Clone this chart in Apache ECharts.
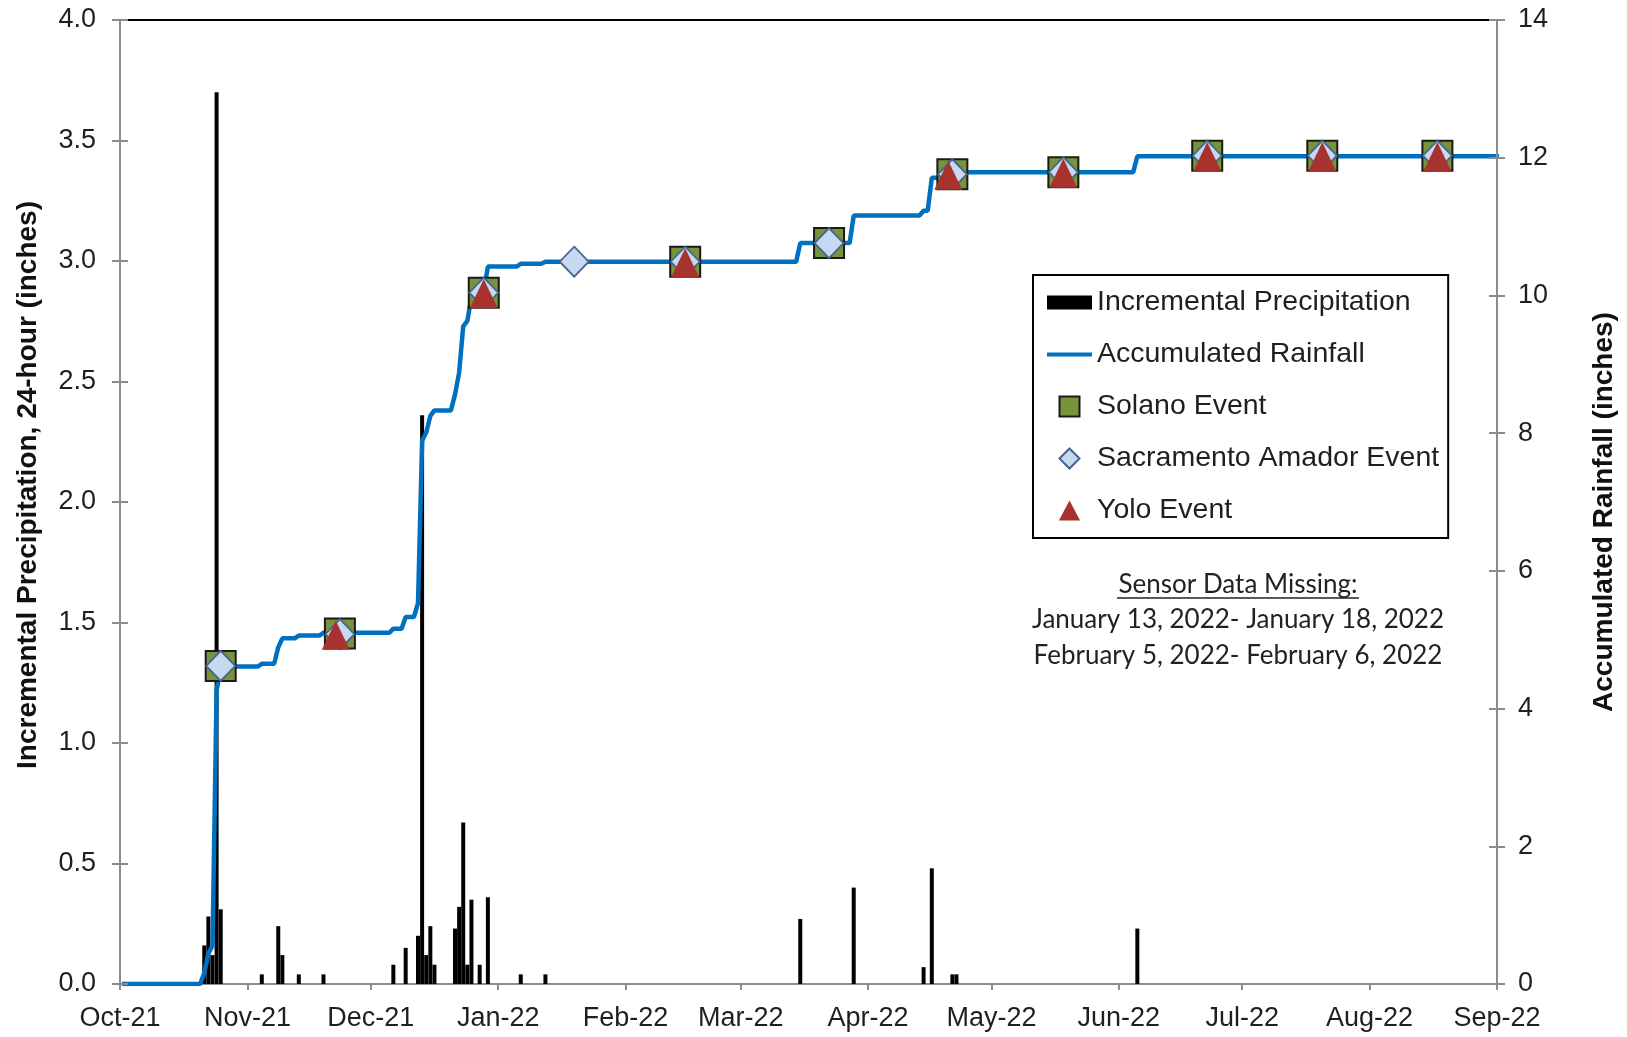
<!DOCTYPE html>
<html>
<head>
<meta charset="utf-8">
<script src="https://cdn.jsdelivr.net/npm/echarts@6/dist/echarts.min.js"></script>
<style>
html,body{margin:0;padding:0;background:#fff;}
#chart{width:1627px;height:1037px;}
</style>
</head>
<body>
<div id="chart"></div>
<script>
// ---------- DATA ----------
const startDate = '2021-10-01';
const monthStarts = ['2021-10-01','2021-11-01','2021-12-01','2022-01-01','2022-02-01','2022-03-01','2022-04-01','2022-05-01','2022-06-01','2022-07-01','2022-08-01','2022-09-01'];
const tickLabels = ['Oct-21','Nov-21','Dec-21','Jan-22','Feb-22','Mar-22','Apr-22','May-22','Jun-22','Jul-22','Aug-22','Sep-22'];

// Incremental precipitation, 24-hour (inches)
const precipitation = [
  ['2021-10-21',0.16],['2021-10-22',0.28],['2021-10-23',0.12],['2021-10-24',3.70],['2021-10-25',0.31],
  ['2021-11-04',0.04],['2021-11-08',0.24],['2021-11-09',0.12],['2021-11-13',0.04],['2021-11-19',0.04],
  ['2021-12-06',0.08],['2021-12-09',0.15],['2021-12-12',0.20],['2021-12-13',2.36],['2021-12-14',0.12],
  ['2021-12-15',0.24],['2021-12-16',0.08],['2021-12-21',0.23],['2021-12-22',0.32],['2021-12-23',0.67],
  ['2021-12-24',0.08],['2021-12-25',0.35],['2021-12-27',0.08],['2021-12-29',0.36],
  ['2022-01-06',0.04],['2022-01-12',0.04],
  ['2022-03-15',0.27],['2022-03-28',0.40],['2022-04-14',0.07],['2022-04-16',0.48],
  ['2022-04-21',0.04],['2022-04-22',0.04],['2022-06-05',0.23]
];

// Accumulated rainfall (inches)
const accumulated = [
  ['2021-10-01',0],['2021-10-20',0],['2021-10-21',0.16],['2021-10-22',0.44],['2021-10-23',0.56],
  ['2021-10-24',4.26],['2021-10-25',4.61],['2021-11-03',4.61],['2021-11-04',4.65],['2021-11-07',4.65],
  ['2021-11-08',4.89],['2021-11-09',5.02],['2021-11-12',5.02],['2021-11-13',5.06],['2021-11-18',5.06],
  ['2021-11-19',5.10],['2021-12-05',5.10],['2021-12-06',5.16],['2021-12-08',5.16],['2021-12-09',5.33],
  ['2021-12-11',5.33],['2021-12-12',5.53],['2021-12-13',7.89],['2021-12-14',8.01],['2021-12-15',8.25],
  ['2021-12-16',8.33],['2021-12-20',8.33],['2021-12-21',8.56],['2021-12-22',8.88],['2021-12-23',9.55],
  ['2021-12-24',9.63],['2021-12-25',9.98],['2021-12-26',9.98],['2021-12-27',10.06],['2021-12-28',10.06],
  ['2021-12-29',10.42],['2022-01-05',10.42],['2022-01-06',10.46],['2022-01-11',10.46],['2022-01-12',10.49],
  ['2022-03-14',10.49],['2022-03-15',10.76],['2022-03-27',10.76],['2022-03-28',11.16],['2022-04-13',11.16],
  ['2022-04-14',11.23],['2022-04-15',11.23],['2022-04-16',11.71],['2022-04-20',11.71],['2022-04-21',11.75],
  ['2022-04-22',11.79],['2022-06-04',11.79],['2022-06-05',12.02],['2022-09-01',12.02]
];

const solanoEvents = [
  ['2021-10-25',4.62],['2021-11-23',5.09],['2021-12-28',10.04],['2022-02-15',10.49],['2022-03-22',10.76],
  ['2022-04-21',11.76],['2022-05-18',11.79],['2022-06-22',12.03],['2022-07-20',12.03],['2022-08-17',12.03]
];
const sacramentoEvents = [
  ['2021-10-25',4.62],['2021-11-23',5.08],['2021-12-28',10.04],['2022-01-19',10.49],['2022-02-15',10.49],
  ['2022-03-22',10.76],['2022-04-21',11.76],['2022-05-18',11.79],['2022-06-22',12.03],['2022-07-20',12.03],
  ['2022-08-17',12.03]
];
const yoloEvents = [
  ['2021-11-22',5.08],['2021-12-28',10.04],['2022-02-15',10.49],['2022-04-20',11.76],['2022-05-18',11.79],
  ['2022-06-22',12.03],['2022-07-20',12.03],['2022-08-17',12.03]
];

const seriesNames = ['Incremental Precipitation','Accumulated Rainfall','Solano Event','Sacramento Amador Event','Yolo Event'];
const leftAxisTitle = 'Incremental Precipitation, 24-hour (inches)';
const rightAxisTitle = 'Accumulated Rainfall (inches)';
const noteLines = ['Sensor Data Missing:','January 13, 2022- January 18, 2022','February 5, 2022- February 6, 2022'];

// ---------- HELPERS ----------
function dayIndex(s){
  const p = s.split('-').map(Number), q = startDate.split('-').map(Number);
  return (Date.UTC(p[0],p[1]-1,p[2]) - Date.UTC(q[0],q[1]-1,q[2]))/86400000;
}
// each day is drawn in the middle of its slot (Excel date axis, between tick marks)
const toPoint = d => [dayIndex(d[0]) + 0.5, d[1]];
const tickDays = monthStarts.map(dayIndex);
const labelOf = {};
tickDays.forEach((d,i)=>{ labelOf[d] = tickLabels[i]; });

const FONT = "'Liberation Sans', Arial, sans-serif";
const NOTE_FONT = "26px Lato, 'Open Sans', sans-serif";
const AXIS_GRAY = '#8c8c8c';
const TXT = '#1f1f1f';

const chart = echarts.init(document.getElementById('chart'), null, {renderer:'canvas'});
const option = {
  animation: false,
  backgroundColor: '#ffffff',
  grid: { left: 120, right: 130, top: 20, bottom: 53, containLabel: false, outerBoundsMode: 'none' },
  xAxis: [
    {
      type: 'value', min: 0, max: tickDays[tickDays.length-1],
      axisLine: { show: true, onZero: false, lineStyle: { color: AXIS_GRAY, width: 2 } },
      axisTick: { show: true, length: 6, lineStyle: { color: AXIS_GRAY, width: 2 }, customValues: tickDays },
      axisLabel: { customValues: tickDays, formatter: v => labelOf[v] || '', fontFamily: FONT, fontSize: 27, color: TXT, margin: 21 },
      splitLine: { show: false }
    },
    {
      type: 'value', position: 'top', min: 0, max: 1,
      axisLine: { show: true, onZero: false, lineStyle: { color: '#000', width: 2 } },
      axisTick: { show: false }, axisLabel: { show: false }, splitLine: { show: false }
    }
  ],
  yAxis: [
    {
      type: 'value', position: 'left', min: 0, max: 4, interval: 0.5,
      name: leftAxisTitle, nameLocation: 'middle', nameGap: 78,
      nameTextStyle: { fontFamily: FONT, fontSize: 28, fontWeight: 'bold', color: '#111', padding: [0,0,0,34] },
      axisLine: { show: true, onZero: false, lineStyle: { color: AXIS_GRAY, width: 2 } },
      axisTick: { show: true, length: 8, lineStyle: { color: AXIS_GRAY, width: 2 } },
      axisLabel: { formatter: v => v.toFixed(1), fontFamily: FONT, fontSize: 27, color: TXT, margin: 24 },
      splitLine: { show: false }, z: 4
    },
    {
      type: 'value', position: 'right', min: 0, max: 14, interval: 2,
      name: rightAxisTitle, nameLocation: 'middle', nameGap: 93,
      nameTextStyle: { fontFamily: FONT, fontSize: 28, fontWeight: 'bold', color: '#111', padding: [0,20,0,0] },
      axisLine: { show: true, onZero: false, lineStyle: { color: AXIS_GRAY, width: 2 } },
      axisTick: { show: true, length: 8, lineStyle: { color: AXIS_GRAY, width: 2 } },
      axisLabel: { fontFamily: FONT, fontSize: 27, color: TXT, margin: 21 },
      splitLine: { show: false }, z: 4
    },
    {
      type: 'value', position: 'left', min: 0, max: 4, interval: 0.5,
      axisLine: { show: false, onZero: false },
      axisTick: { show: true, inside: true, length: 8, lineStyle: { color: AXIS_GRAY, width: 2 } },
      axisLabel: { show: false }, splitLine: { show: false }, z: 4
    },
    {
      type: 'value', position: 'right', min: 0, max: 14, interval: 2,
      axisLine: { show: false, onZero: false },
      axisTick: { show: true, inside: true, length: 8, lineStyle: { color: AXIS_GRAY, width: 2 } },
      axisLabel: { show: false }, splitLine: { show: false }, z: 4
    }
  ],
  legend: {
    orient: 'vertical', left: 1033, top: 275,
    padding: [13, 9, 13, 14],
    itemWidth: 45, itemHeight: 20, itemGap: 23,
    borderColor: '#000', borderWidth: 2, backgroundColor: '#fff',
    textStyle: { fontFamily: FONT, fontSize: 28.5, color: TXT },
    data: [
      { name: seriesNames[0], icon: 'path://M0,0H45V14H0Z' },
      { name: seriesNames[1], icon: 'path://M0,0H45V4H0Z' },
      { name: seriesNames[2], icon: 'path://M0,0H20V20H0Z' },
      { name: seriesNames[3], icon: 'path://M10,0L20,10L10,20L0,10Z' },
      { name: seriesNames[4], icon: 'path://M10,1L19,18L1,18Z' }
    ]
  },
  series: [
    {
      name: seriesNames[0], type: 'bar', xAxisIndex: 0, yAxisIndex: 0,
      barWidth: 4, itemStyle: { color: '#000' }, z: 2,
      data: precipitation.map(toPoint)
    },
    {
      name: seriesNames[1], type: 'line', xAxisIndex: 0, yAxisIndex: 1,
      symbol: 'none', lineStyle: { color: '#0070C0', width: 4.5 }, itemStyle: { color: '#0070C0' }, z: 3,
      data: accumulated.map(toPoint)
    },
    {
      name: seriesNames[2], type: 'scatter', xAxisIndex: 0, yAxisIndex: 1,
      symbol: 'rect', symbolSize: 30,
      itemStyle: { color: '#77933C', borderColor: '#1a1a1a', borderWidth: 2, opacity: 1 }, z: 4,
      data: solanoEvents.map(toPoint)
    },
    {
      name: seriesNames[3], type: 'scatter', xAxisIndex: 0, yAxisIndex: 1,
      symbol: 'diamond', symbolSize: [29, 30],
      itemStyle: { color: '#C6D9F1', borderColor: '#44658F', borderWidth: 1.8, opacity: 1 }, z: 5,
      data: sacramentoEvents.map(toPoint)
    },
    {
      name: seriesNames[4], type: 'scatter', xAxisIndex: 0, yAxisIndex: 1,
      symbol: 'triangle', symbolSize: [28, 29], symbolOffset: [0, 1],
      itemStyle: { color: '#A8322D', opacity: 1 }, z: 6,
      data: yoloEvents.map(toPoint)
    }
  ],
  graphic: [
    { type: 'text', x: 1238, y: 585, z: 10, style: { text: noteLines[0], font: NOTE_FONT, fill: '#222', textAlign: 'center', textVerticalAlign: 'middle' } },
    { type: 'line', z: 10, shape: { x1: 1117, y1: 598, x2: 1359, y2: 598 }, style: { stroke: '#222', lineWidth: 1.5 } },
    { type: 'text', x: 1238, y: 620, z: 10, style: { text: noteLines[1], font: NOTE_FONT, fill: '#222', textAlign: 'center', textVerticalAlign: 'middle' } },
    { type: 'text', x: 1238, y: 656, z: 10, style: { text: noteLines[2], font: NOTE_FONT, fill: '#222', textAlign: 'center', textVerticalAlign: 'middle' } }
  ]
};
chart.setOption(option);
</script>
</body>
</html>
